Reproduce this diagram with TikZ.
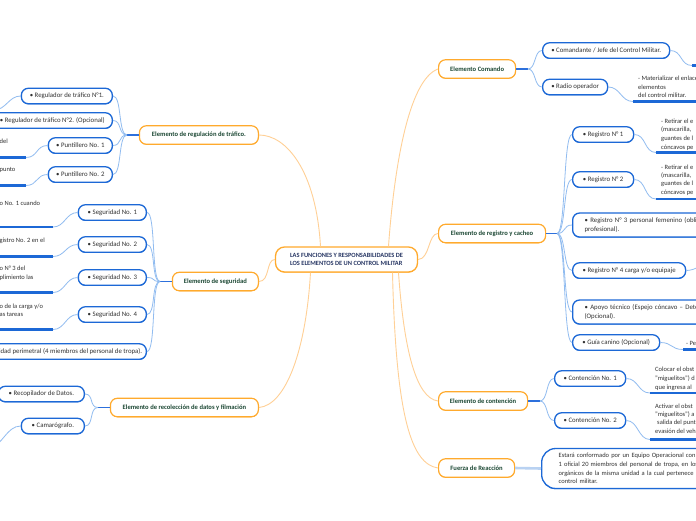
\documentclass[tikz,border=0pt]{standalone}
\usepackage{fontspec}
\setmainfont{Carlito}
\usetikzlibrary{shadows}
\definecolor{orBd}{RGB}{255,170,45}
\definecolor{orLn}{RGB}{255,208,150}
\definecolor{dgreen}{RGB}{28,72,52}
\definecolor{navy}{RGB}{40,55,100}
\definecolor{blueBd}{RGB}{28,104,214}
\definecolor{blueLn}{RGB}{145,188,240}
\definecolor{blueSt}{RGB}{45,112,220}
\definecolor{blueFat}{RGB}{185,210,242}
\definecolor{tgray}{RGB}{50,50,50}
\begin{document}
\begin{tikzpicture}[x=1pt,y=-1pt,
  cen/.style={draw=orBd, line width=1.3pt, rounded corners=9pt, fill=white,
    font=\bfseries\fontsize{6.4}{7.6}\selectfont, text=navy, align=left,
    minimum width=142pt, minimum height=25pt,
    drop shadow={shadow xshift=0pt,shadow yshift=-0.6pt,fill=orBd,opacity=1}},
  lvone/.style={draw=orBd, line width=1.2pt, rounded corners=7pt, fill=white,
    font=\bfseries\fontsize{6.6}{7.5}\selectfont, text=dgreen, minimum height=18.5pt,
    inner xsep=4pt,
    drop shadow={shadow xshift=0pt,shadow yshift=-0.5pt,fill=orBd,opacity=1}},
  lvtwo/.style={draw=blueBd, line width=1.3pt, rounded corners=7pt, fill=white,
    font=\fontsize{6.8}{8.8}\selectfont, text=tgray, minimum height=15.5pt,
    inner xsep=3pt,
    drop shadow={shadow xshift=0pt,shadow yshift=-0.7pt,fill=blueBd,opacity=1}},
  lthree/.style={font=\fontsize{6.5}{8.7}\selectfont, text=tgray, align=left, inner sep=0pt},
  orline/.style={draw=orLn, line width=0.9pt},
  stub/.style={draw=blueSt, line width=1.4pt},
  sub/.style={draw=blueLn, line width=0.8pt},
  uline/.style={draw=blueBd, line width=2.2pt}]
\fill[white] (0,0) rectangle (696,520);
\useasboundingbox (0,0) rectangle (696,520);
\clip (0,0) rectangle (696,520);

% ---------- central node
\node[cen] (c) at (346.5,259.5) {LAS FUNCIONES Y RESPONSABILIDADES DE\\LOS ELEMENTOS DE UN CONTROL MILITAR};

% ---------- level 1
\node[lvone, anchor=west, minimum width=77pt] (ec) at (438,69) {Elemento Comando};
\node[lvone, anchor=west, minimum width=107pt] (er) at (438,233.5) {Elemento de registro y cacheo};
\node[lvone, anchor=west, minimum width=89pt] (en) at (438,401) {Elemento de contención};
\node[lvone, anchor=west, minimum width=76pt] (ef) at (438,468) {Fuerza de Reacción};
\node[lvone, anchor=east, minimum width=119pt] (et) at (259,135) {Elemento de regulación de tráfico.};
\node[lvone, anchor=east, minimum width=86pt] (es) at (259,281.5) {Elemento de seguridad};
\node[lvone, anchor=east, minimum width=148pt] (ed) at (259,407.5) {Elemento de recolección de datos y filmación};

% ---------- main connectors
\draw[orline] ([xshift=42pt]c.north) .. controls (394,170) and (408,80) .. (ec.west);
\draw[orline] (c.east) .. controls (430,259) and (428,233.5) .. (er.west);
\draw[orline] ([xshift=52pt]c.south) .. controls (404,350) and (416,398) .. (en.west);
\draw[orline] ([xshift=46pt]c.south) .. controls (396,420) and (412,464) .. (ef.west);
\draw[orline] ([xshift=-26pt]c.north) .. controls (316,170) and (286,135) .. (et.east);
\draw[orline] (c.west) .. controls (266,259.5) and (270,281.5) .. (es.east);
\draw[orline] ([xshift=-36pt]c.south) .. controls (306,350) and (286,405) .. (ed.east);

% ---------- Elemento Comando
\coordinate (ecb) at (528,69);
\draw[stub] (ec.east) -- (ecb);
\node[lvtwo, anchor=west, minimum width=127pt] (c1) at (542,50.5) {• Comandante / Jefe del Control Militar.};
\node[lvtwo, anchor=west, minimum width=65pt] (c2) at (542,87) {• Radio operador};
\draw[sub] (ecb) .. controls +(8,0) and +(-8,0) .. (c1.west);
\draw[sub] (ecb) .. controls +(8,0) and +(-8,0) .. (c2.west);
\coordinate (uc1) at (692,65.5); \coordinate (uc1e) at (730,65.5);
\draw[sub] (c1.east) .. controls +(12,0) and +(-12,0) .. (uc1);
\draw[uline] (uc1) -- (uc1e);
\coordinate (uc2) at (633,101.5); \coordinate (uc2e) at (730,101.5);
\draw[sub] (c2.east) .. controls +(12,0) and +(-12,0) .. (uc2);
\draw[uline] (uc2) -- (uc2e);
\node[lthree, anchor=base west, font=\fontsize{6.5}{8.5}\selectfont] (tc2) at (638,97.5) {- Materializar el enlace\\elementos\\del control militar.};

% ---------- Elemento de registro y cacheo
\coordinate (erb) at (557,233.5);
\draw[stub] (er.east) -- (erb);
\node[lvtwo, anchor=west, minimum width=61pt] (r1) at (572,134.5) {• Registro N° 1};
\node[lvtwo, anchor=west, minimum width=61pt] (r2) at (572,179.5) {• Registro N° 2};
\node[lvtwo, anchor=west, minimum height=24pt, text width=250pt, inner xsep=12pt, align=left, font=\fontsize{6.8}{8.6}\selectfont] (r3) at (572,225) {• Registro N° 3 personal femenino (obligatorio\\profesional).};
\node[lvtwo, anchor=west, minimum width=113pt] (r4) at (572,270.5) {• Registro N° 4 carga y/o equipaje};
\node[lvtwo, anchor=west, minimum height=24pt, text width=250pt, inner xsep=12pt, align=left, font=\fontsize{6.8}{8.6}\selectfont] (r5) at (572,312) {• Apoyo técnico (Espejo cóncavo – Detector\\(Opcional).};
\node[lvtwo, anchor=west, minimum width=87pt] (r6) at (572,342.5) {• Guía canino (Opcional)};
\foreach \n in {r1,r2,r3,r4,r5,r6}{
  \draw[sub] (erb) .. controls +(9,0) and +(-9,0) .. (\n.west);
}
\coordinate (ur1) at (656,152.5); \coordinate (ur1e) at (730,152.5);
\draw[sub] (r1.east) .. controls +(12,0) and +(-12,0) .. (ur1);
\draw[uline] (ur1) -- (ur1e);
\node[lthree, anchor=base west] (tr1) at (661,149.2) {- Retirar el e\\(mascarilla,\\guantes de l\\cóncavos pe};
\coordinate (ur2) at (656,199); \coordinate (ur2e) at (730,199);
\draw[sub] (r2.east) .. controls +(12,0) and +(-12,0) .. (ur2);
\draw[uline] (ur2) -- (ur2e);
\node[lthree, anchor=base west, font=\fontsize{6.5}{8.4}\selectfont] (tr2) at (661,194.3) {- Retirar el e\\(mascarilla,\\guantes de l\\cóncavos pe};
\coordinate (ur4) at (712,263);
\draw[sub] (r4.east) .. controls +(10,0) and +(-10,0) .. (ur4);
\coordinate (ur6) at (683,349.5); \coordinate (ur6e) at (730,349.5);
\draw[sub] (r6.east) .. controls +(12,0) and +(-12,0) .. (ur6);
\draw[uline] (ur6) -- (ur6e);
\node[lthree, anchor=base west] (tr6) at (686,345.5) {- Pe};

% ---------- Elemento de contención
\coordinate (enb) at (540,401);
\draw[stub] (en.east) -- (enb);
\node[lvtwo, anchor=west, minimum width=71pt] (n1) at (554,378.5) {• Contención No. 1};
\node[lvtwo, anchor=west, minimum width=71pt] (n2) at (554,420.5) {• Contención No. 2};
\draw[sub] (enb) .. controls +(8,0) and +(-8,0) .. (n1.west);
\draw[sub] (enb) .. controls +(8,0) and +(-8,0) .. (n2.west);
\coordinate (un1) at (650,393); \coordinate (un1e) at (730,393);
\draw[sub] (n1.east) .. controls +(12,0) and +(-12,0) .. (un1);
\draw[uline] (un1) -- (un1e);
\node[lthree, anchor=base west, font=\fontsize{6.5}{9}\selectfont] (tn1) at (655,389.3) {Colocar el obst\\"miguelitos") d\\que ingresa al};
\coordinate (un2) at (650,439.5); \coordinate (un2e) at (730,439.5);
\draw[sub] (n2.east) .. controls +(12,0) and +(-12,0) .. (un2);
\draw[uline] (un2) -- (un2e);
\node[lthree, anchor=base west, font=\fontsize{6.5}{8.1}\selectfont] (tn2) at (655,433) {Activar el obst\\"miguelitos") a\\\hspace*{2pt}salida del punt\\evasión del veh};

% ---------- Fuerza de Reacción
\node[lvtwo, anchor=west, minimum height=40pt, text width=250pt, inner xsep=17pt, align=left, rounded corners=14pt, font=\fontsize{6.5}{8.6}\selectfont] (f1) at (541,468.5) {Estará conformado por un Equipo Operacional con\\1 oficial 20 miembros del personal de tropa, en los\\orgánicos de la misma unidad a la cual pertenece el\\control militar.};
\draw[draw=blueFat, line width=2.6pt] (ef.east) -- (f1.west);

% ---------- Elemento de regulación de tráfico
\coordinate (etb) at (127,135);
\draw[stub] (et.west) -- (etb);
\node[lvtwo, anchor=east, minimum width=91pt] (t1) at (113,96) {• Regulador de tráfico N°1.};
\node[lvtwo, anchor=east, minimum width=120pt] (t2) at (113,120.5) {• Regulador de tráfico N°2. (Opcional)};
\node[lvtwo, anchor=east, minimum width=64pt] (t3) at (113,145.5) {• Puntillero No. 1};
\node[lvtwo, anchor=east, minimum width=64pt] (t4) at (113,174.5) {• Puntillero No. 2};
\foreach \n in {t1,t2,t3,t4}{
  \draw[sub] (etb) .. controls +(-9,0) and +(9,0) .. (\n.east);
}
\coordinate (ut1) at (-6,110);
\draw[sub] (t1.west) .. controls +(-12,0) and +(12,0) .. (ut1);
\coordinate (ut3) at (26,157.5); \coordinate (ut3e) at (-20,157.5);
\draw[sub] (t3.west) .. controls +(-12,0) and +(12,0) .. (ut3);
\draw[uline] (ut3) -- (ut3e);
\node[lthree, anchor=base west] (tt3) at (-0.5,143.8) {del};
\coordinate (ut4) at (26,185.5); \coordinate (ut4e) at (-20,185.5);
\draw[sub] (t4.west) .. controls +(-12,0) and +(12,0) .. (ut4);
\draw[uline] (ut4) -- (ut4e);
\node[lthree, anchor=base west] (tt4) at (-0.5,171.6) {punto};

% ---------- Elemento de seguridad
\coordinate (esb) at (160,281.5);
\draw[stub] (es.west) -- (esb);
\node[lvtwo, anchor=east, minimum width=68pt] (s1) at (147,212.5) {• Seguridad No. 1};
\node[lvtwo, anchor=east, minimum width=68pt] (s2) at (147,244.5) {• Seguridad No. 2};
\node[lvtwo, anchor=east, minimum width=68pt] (s3) at (147,277.5) {• Seguridad No. 3};
\node[lvtwo, anchor=east, minimum width=68pt] (s4) at (147,314.5) {• Seguridad No. 4};
\node[lvtwo, anchor=east, minimum width=172pt] (s5) at (147,351.5) {• Seguridad perimetral (4 miembros del personal de tropa).};
\foreach \n in {s1,s2,s3,s4,s5}{
  \draw[sub] (esb) .. controls +(-9,0) and +(9,0) .. (\n.east);
}
\coordinate (us1) at (53,227); \coordinate (us1e) at (-20,227);
\draw[sub] (s1.west) .. controls +(-12,0) and +(12,0) .. (us1);
\draw[uline] (us1) -- (us1e);
\node[lthree, anchor=base west] (ts1) at (-0.5,205.6) {o No. 1 cuando};
\coordinate (us2) at (53,256.5); \coordinate (us2e) at (-20,256.5);
\draw[sub] (s2.west) .. controls +(-12,0) and +(12,0) .. (us2);
\draw[uline] (us2) -- (us2e);
\node[lthree, anchor=base west] (ts2) at (-0.5,242.3) {gistro No. 2 en el};
\coordinate (us3) at (53,292.5); \coordinate (us3e) at (-20,292.5);
\draw[sub] (s3.west) .. controls +(-12,0) and +(12,0) .. (us3);
\draw[uline] (us3) -- (us3e);
\node[lthree, anchor=base west, font=\fontsize{6.5}{8.4}\selectfont] (ts3) at (-0.5,279) {o N° 3 del\\plimiento las};
\coordinate (us4) at (53,329.5); \coordinate (us4e) at (-20,329.5);
\draw[sub] (s4.west) .. controls +(-12,0) and +(12,0) .. (us4);
\draw[uline] (us4) -- (us4e);
\node[lthree, anchor=base west, font=\fontsize{6.5}{8.2}\selectfont] (ts4) at (-0.5,316.3) {o de la carga y/o\\as tareas};

% ---------- Elemento de recolección de datos y filmación
\coordinate (edb) at (98,407.5);
\draw[stub] (ed.west) -- (edb);
\node[lvtwo, anchor=east, minimum width=86pt] (d1) at (85,394) {• Recopilador de Datos.};
\node[lvtwo, anchor=east, minimum width=63pt] (d2) at (85,426) {• Camarógrafo.};
\draw[sub] (edb) .. controls +(-9,0) and +(9,0) .. (d1.east);
\draw[sub] (edb) .. controls +(-9,0) and +(9,0) .. (d2.east);
\coordinate (ud2) at (-8,446);
\draw[sub] (d2.west) .. controls +(-14,0) and +(10,0) .. (ud2);
\end{tikzpicture}
\end{document}
